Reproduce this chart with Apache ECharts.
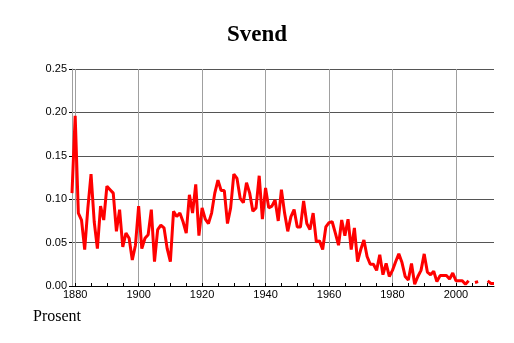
<!DOCTYPE html>
<html>
<head>
<meta charset="utf-8">
<script src="https://cdn.jsdelivr.net/npm/echarts@6/dist/echarts.min.js"></script>
<style>
html,body{margin:0;padding:0;background:#fff;}
#c{width:514px;height:343px;}
</style>
</head>
<body>
<div id="c"></div>
<script>
var titleText = "Svend";
var yAxisTitle = "Prosent";
var startYear = 1879;
var endYear = 2012;
var yTicks = [0, 0.05, 0.10, 0.15, 0.20, 0.25];
var values = [
  0.107, 0.196, 0.084, 0.076, 0.042, 0.090, 0.129, 0.074, 0.043, 0.092, // 1879-1888
  0.076, 0.115, 0.111, 0.107, 0.063, 0.088, 0.045, 0.061, 0.055, 0.030, // 1889-1898
  0.047, 0.092, 0.043, 0.055, 0.059, 0.088, 0.028, 0.065, 0.070, 0.067, // 1899-1908
  0.043, 0.028, 0.086, 0.080, 0.084, 0.074, 0.061, 0.105, 0.084, 0.117, // 1909-1918
  0.058, 0.090, 0.077, 0.072, 0.084, 0.107, 0.122, 0.110, 0.110, 0.072, // 1919-1928
  0.090, 0.129, 0.124, 0.101, 0.096, 0.119, 0.107, 0.086, 0.090, 0.127, // 1929-1938
  0.077, 0.113, 0.090, 0.092, 0.099, 0.075, 0.111, 0.084, 0.063, 0.080, // 1939-1948
  0.088, 0.068, 0.068, 0.098, 0.072, 0.065, 0.084, 0.051, 0.052, 0.042, // 1949-1958
  0.068, 0.073, 0.074, 0.061, 0.047, 0.076, 0.058, 0.077, 0.042, 0.067, // 1959-1968
  0.028, 0.042, 0.053, 0.034, 0.025, 0.025, 0.018, 0.036, 0.013, 0.026, // 1969-1978
  0.011, 0.018, 0.028, 0.037, 0.027, 0.011, 0.007, 0.026, 0.002, 0.011, // 1979-1988
  0.018, 0.037, 0.016, 0.013, 0.017, 0.005, 0.012, 0.012, 0.012, 0.008, // 1989-1998
  0.015, 0.006, 0.006, 0.006, 0.002, 0.006, null, 0.004, 0.005, null,   // 1999-2008
  null, 0.006, 0.003, 0.003                                              // 2009-2012
];
var years = [];
for (var y = startYear; y <= endYear; y++) years.push(String(y));

var chart = echarts.init(document.getElementById('c'), null, {renderer: 'canvas'});
chart.setOption({
  animation: false,
  backgroundColor: '#ffffff',
  title: {
    text: titleText,
    left: 'center',
    top: 19,
    textStyle: {fontFamily: 'Liberation Serif', fontWeight: 'bold', fontSize: 23, color: '#000'}
  },
  graphic: [{
    type: 'text',
    left: 33,
    top: 309,
    style: {text: yAxisTitle, font: '16px "Liberation Serif"', fill: '#000'}
  }],
  grid: {left: 72, right: 20, top: 69, bottom: 57},
  xAxis: {
    type: 'category',
    data: years,
    boundaryGap: false,
    axisLine: {show: true, lineStyle: {color: '#000', width: 1}},
    axisTick: {
      show: true, inside: true, length: 3,
      interval: function (i, v) { return Number(v) % 5 === 0; },
      lineStyle: {color: '#000'}
    },
    axisLabel: {
      interval: function (i, v) { return Number(v) % 20 === 0; },
      fontFamily: 'Liberation Sans', fontSize: 11, color: '#000', margin: 3
    },
    splitLine: {
      show: true,
      interval: function (i, v) { return Number(v) % 20 === 0; },
      lineStyle: {color: '#a0a0a0', width: 1}
    }
  },
  yAxis: {
    type: 'value',
    min: 0, max: 0.25, interval: 0.05,
    axisLine: {show: true, lineStyle: {color: '#a0a0a0'}},
    axisTick: {show: true, length: 3, lineStyle: {color: '#000'}},
    axisLabel: {
      fontFamily: 'Liberation Sans', fontSize: 11, color: '#000', margin: 5,
      formatter: function (v) { return v.toFixed(2); }
    },
    splitLine: {show: true, lineStyle: {color: '#555555', width: 1}}
  },
  series: [{
    type: 'line',
    data: values,
    showSymbol: false,
    connectNulls: false,
    lineStyle: {color: '#ff0000', width: 3},
    itemStyle: {color: '#ff0000'}
  }]
});
</script>
</body>
</html>
